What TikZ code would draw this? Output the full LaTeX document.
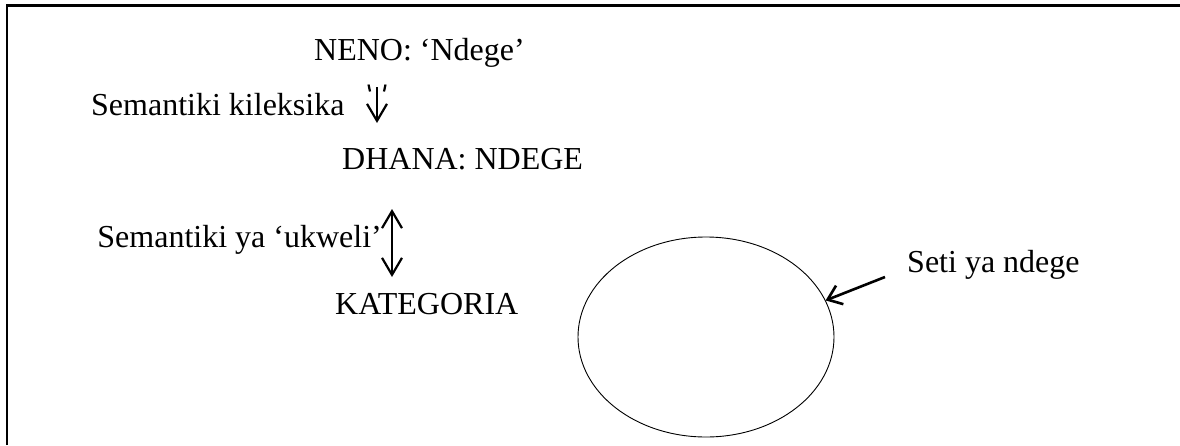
\documentclass[tikz,border=0pt]{standalone}
\usepackage{fontspec}
\setmainfont{Liberation Serif}
\usetikzlibrary{arrows.meta,shapes.geometric}
\begin{document}
\begin{tikzpicture}[x=1pt,y=-1pt,
  lbl/.style={anchor=base west,inner sep=0pt,font=\fontsize{32}{38}\selectfont},
  frameline/.style={line width=2.3pt},
  barb/.style={line width=2.2pt},
  ptr/.style={line width=2.6pt,-{Straight Barb[length=13pt,width=20pt,line width=2.6pt]}},
  setshape/.style={draw,ellipse,minimum width=256pt,minimum height=200pt,inner sep=0pt,line width=0.9pt}]
\useasboundingbox (0,0) rectangle (1180,445);
% frame (cut off at right and bottom)
\draw[frameline] (7.2,445) -- (7.2,5.5) -- (1180,5.5);
% texts
\node[lbl] (neno) at (314,60) {NENO: ‘Ndege’};
\node[lbl] (semk) at (91,115) {Semantiki kileksika};
\node[lbl] (dhana) at (342,169) {DHANA: NDEGE};
\node[lbl,anchor=base east] (semu) at (382,247) {Semantiki ya ‘ukweli’};
\node[lbl] (kat) at (335,314) {KATEGORIA};
\node[lbl] (seti) at (907,272) {Seti ya ndege};
% set ellipse
\node[setshape] (set) at (706,337) {};
% arrow 1
\coordinate (a1top) at (377,87);
\coordinate (a1bot) at (377,123);
\draw[barb,-{Straight Barb[length=17pt,width=20pt,line width=2.2pt]}] (a1top) -- (a1bot);
\draw[barb] (368.5,84.5) -- (370,91.5);
\draw[barb] (385.5,84.5) -- (384,91.5);
% arrow 2
\coordinate (a2top) at (392,209);
\coordinate (a2bot) at (392,277);
\draw[barb,{Straight Barb[length=17pt,width=20pt,line width=2.2pt]}-{Straight Barb[length=17pt,width=20pt,line width=2.2pt]}] (a2top) -- (a2bot);
% pointer to set
\coordinate (setitail) at (885,277);
\draw[ptr] (setitail) -- (set.17);
\end{tikzpicture}
\end{document}
